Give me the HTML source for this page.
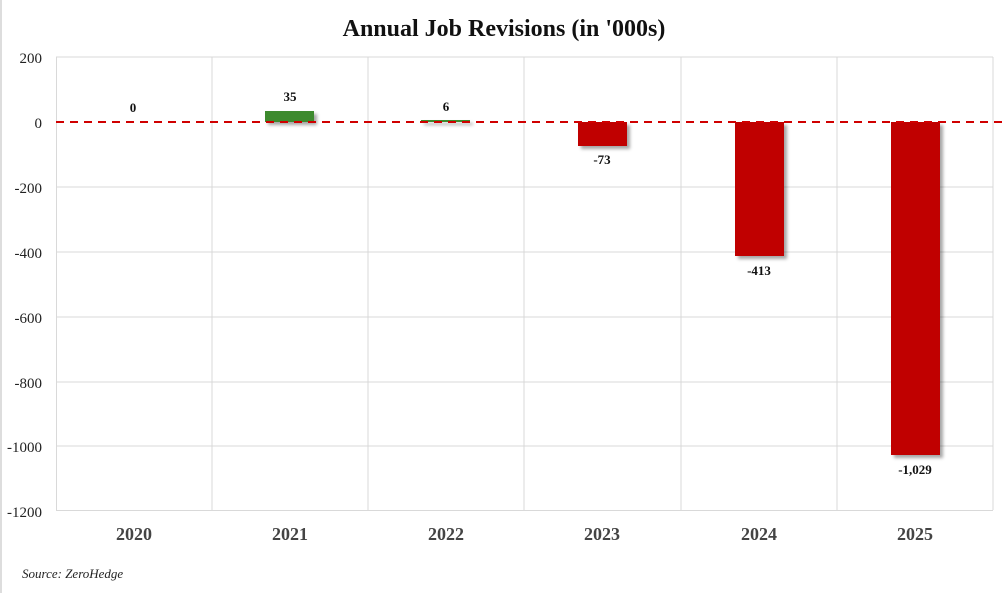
<!DOCTYPE html>
<html><head><meta charset="utf-8"><style>
html,body{margin:0;padding:0;background:#fff;}
svg{display:block;}
text{font-family:"Liberation Serif",serif;}
</style></head><body>
<svg width="1008" height="593" viewBox="0 0 1008 593" xmlns="http://www.w3.org/2000/svg">
<defs><filter id="sh" x="-20%" y="-20%" width="150%" height="150%"><feDropShadow dx="3" dy="3" stdDeviation="1.5" flood-color="#000" flood-opacity="0.35"/></filter></defs>
<rect x="0" y="0" width="1008" height="593" fill="#fff"/>
<line x1="1" y1="0" x2="1" y2="593" stroke="#ddd" stroke-width="2"/>
<text x="504" y="36" text-anchor="middle" font-size="24" font-weight="bold" fill="#111">Annual Job Revisions (in '000s)</text>
<g stroke="#d9d9d9" stroke-width="1">
<line x1="56" y1="57" x2="993" y2="57"/>
<line x1="56" y1="187" x2="993" y2="187"/>
<line x1="56" y1="252" x2="993" y2="252"/>
<line x1="56" y1="317" x2="993" y2="317"/>
<line x1="56" y1="382" x2="993" y2="382"/>
<line x1="56" y1="446" x2="993" y2="446"/>
<line x1="56" y1="510.5" x2="993" y2="510.5"/>
<line x1="56.5" y1="57" x2="56.5" y2="510"/>
<line x1="212" y1="57" x2="212" y2="510"/>
<line x1="368" y1="57" x2="368" y2="510"/>
<line x1="524" y1="57" x2="524" y2="510"/>
<line x1="681" y1="57" x2="681" y2="510"/>
<line x1="837" y1="57" x2="837" y2="510"/>
<line x1="993" y1="57" x2="993" y2="510"/>
</g>
<g font-size="15" fill="#222" text-anchor="end">
<text x="42" y="63">200</text>
<text x="42" y="128">0</text>
<text x="42" y="193">-200</text>
<text x="42" y="258">-400</text>
<text x="42" y="323">-600</text>
<text x="42" y="388">-800</text>
<text x="42" y="452">-1000</text>
<text x="42" y="517">-1200</text>
</g>
<g filter="url(#sh)">
<rect x="265" y="111" width="49" height="11" fill="#3e8a2e"/>
<rect x="421" y="120" width="49" height="2" fill="#3e8a2e"/>
<rect x="578" y="122" width="49" height="24" fill="#c00000"/>
<rect x="735" y="122" width="49" height="134" fill="#c00000"/>
<rect x="891" y="122" width="49" height="333" fill="#c00000"/>
</g>
<line x1="56" y1="122" x2="1008" y2="122" stroke="#d00000" stroke-width="2" stroke-dasharray="8,6"/>
<g font-size="13" font-weight="bold" fill="#111" text-anchor="middle">
<text x="133" y="112">0</text>
<text x="290" y="101">35</text>
<text x="446" y="111">6</text>
<text x="602" y="164">-73</text>
<text x="759" y="275">-413</text>
<text x="915" y="474">-1,029</text>
</g>
<g font-size="18" font-weight="bold" fill="#444" text-anchor="middle">
<text x="134" y="540">2020</text>
<text x="290" y="540">2021</text>
<text x="446" y="540">2022</text>
<text x="602" y="540">2023</text>
<text x="759" y="540">2024</text>
<text x="915" y="540">2025</text>
</g>
<text x="22" y="578" font-size="13" font-style="italic" fill="#222">Source: ZeroHedge</text>
</svg>
</body></html>
